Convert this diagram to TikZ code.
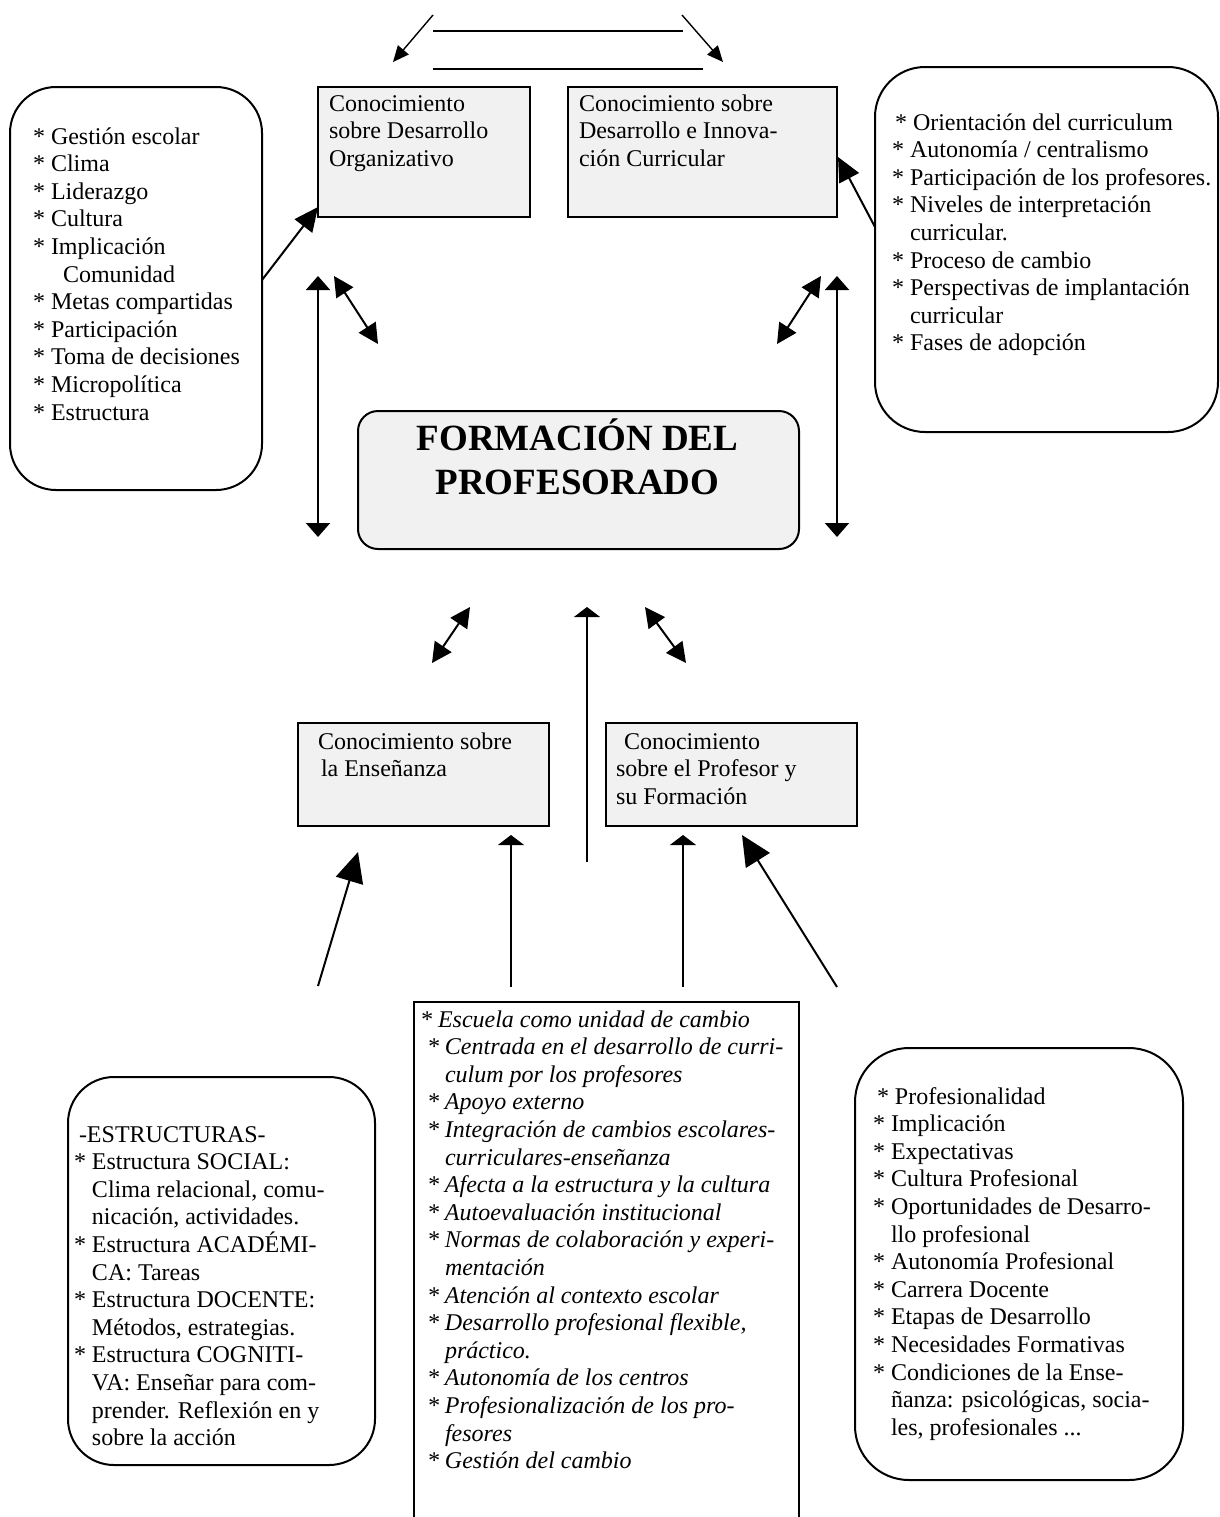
\documentclass[tikz,border=0pt]{standalone}
\usepackage{fontspec}
\setmainfont{Liberation Serif}
\usetikzlibrary{arrows.meta}
\definecolor{boxgray}{RGB}{241,241,241}
\begin{document}
\begin{tikzpicture}[x=0.5pt,y=-0.5pt,
  gbox/.style={draw, line width=1.4pt, fill=boxgray, anchor=north west, inner sep=0pt, outer sep=0pt},
  rbox/.style={draw, line width=1pt, rounded corners=23pt, anchor=north west, inner sep=0pt, outer sep=0pt},
  txt/.style={anchor=base west, inner sep=0pt, outer sep=0pt, font=\fontsize{12}{13.8}\selectfont},
  itxt/.style={txt, font=\fontsize{12}{13.8}\selectfont\itshape},
  ttip/.tip={Triangle[length=8pt,width=7pt]},
  vtip/.tip={Triangle[length=7pt,width=12pt]},
  dtip/.tip={Triangle[length=10pt,width=10pt]},
  btip/.tip={Triangle[length=12pt,width=11pt]},
  ftip/.tip={Triangle[length=5pt,width=13pt]},
  gtip/.tip={Triangle[length=15pt,width=14pt]},
  thinline/.style={line width=0.7pt},
  midline/.style={line width=1pt},
  hairline/.style={line width=0.6pt}
]
\useasboundingbox (0,0) rectangle (1220,1517);

% ---------- top connectors ----------
\coordinate (ta1) at (433,15);  \coordinate (ta2) at (393,62);
\coordinate (tb1) at (682,15);  \coordinate (tb2) at (723,62);
\coordinate (l1a) at (433,31);  \coordinate (l1b) at (683,31);
\coordinate (l2a) at (433,69);  \coordinate (l2b) at (703,69);
\draw[thinline,-ttip] (ta1) -- (ta2);
\draw[thinline,-ttip] (tb1) -- (tb2);
\draw[thinline] (l1a) -- (l1b);
\draw[thinline] (l2a) -- (l2b);

% ---------- top boxes ----------
\node[gbox, minimum width=106pt, minimum height=65pt] (b1) at (318,87) {};
\node[gbox, minimum width=134.5pt, minimum height=65pt] (b2) at (568,87) {};
\node[txt] (b1t) at (329,111) {\parbox[t]{120pt}{\raggedright Conocimiento\\sobre Desarrollo\\Organizativo}};
\node[txt] (b2t) at (579,111) {\parbox[t]{130pt}{\raggedright Conocimiento sobre\\Desarrollo e Innova-\\ción Curricular}};

% ---------- left top rounded box ----------
\node[rbox, minimum width=126pt, minimum height=201.5pt] (lbox) at (10,87) {};
\node[txt] (lboxt) at (33,144) {\parbox[t]{125pt}{\raggedright
{}* Gestión escolar\\
{}* Clima\\
{}* Liderazgo\\
{}* Cultura\\
{}* Implicación\\
\hspace*{15pt}Comunidad\\
{}* Metas compartidas\\
{}* Participación\\
{}* Toma de decisiones\\
{}* Micropolítica\\
{}* Estructura}};

% ---------- right top rounded box ----------
\node[rbox, rounded corners=25pt, minimum width=171.5pt, minimum height=182.5pt] (rbox) at (875,67) {};
\node[txt] (rboxt) at (892,130) {\parbox[t]{170pt}{\raggedright
\hspace*{1.5pt}* Orientación del curriculum\\
{}* Autonomía / centralismo\\
{}* Participación de los profesores.\\
{}* Niveles de interpretación\\
\phantom{* }curricular.\\
{}* Proceso de cambio\\
{}* Perspectivas de implantación\\
\phantom{* }curricular\\
{}* Fases de adopción}};

% connectors from side boxes to knowledge boxes
\coordinate (la) at (262,280);
\coordinate (lb) at (318,207);
\draw[midline,-btip] (la) -- (lb);
\coordinate (ra) at (875,227);
\coordinate (rb) at (838,157);
\draw[midline,-btip] (ra) -- (rb);

% ---------- main box ----------
\node[draw, line width=1pt, fill=boxgray, rounded corners=10pt, anchor=north west,
      minimum width=220.5pt, minimum height=69pt, inner sep=0pt] (main) at (357,410) {};
\node[anchor=base, inner sep=0pt] (maint) at (577.5,450)
  {\parbox[t]{215pt}{\centering\fontsize{18.5}{22}\selectfont\bfseries FORMACIÓN DEL\\PROFESORADO}};

% vertical long double arrows
\coordinate (vl1) at (318,276); \coordinate (vl2) at (318,537);
\coordinate (vr1) at (837,276); \coordinate (vr2) at (837,537);
\draw[midline,vtip-vtip] (vl1) -- (vl2);
\draw[midline,vtip-vtip] (vr1) -- (vr2);

% small diagonal double arrows (top)
\coordinate (sl1) at (334,276); \coordinate (sl2) at (378,344);
\coordinate (sr1) at (821,276); \coordinate (sr2) at (777,344);
\draw[midline,dtip-dtip] (sl1) -- (sl2);
\draw[midline,dtip-dtip] (sr1) -- (sr2);

% small diagonal double arrows (bottom) and centre arrow
\coordinate (bl1) at (470,607); \coordinate (bl2) at (432,663);
\coordinate (br1) at (645,607); \coordinate (br2) at (686,663);
\draw[midline,dtip-dtip] (bl1) -- (bl2);
\draw[midline,dtip-dtip] (br1) -- (br2);
\coordinate (c1) at (587,862); \coordinate (c2) at (587,607);
\draw[hairline,-ftip] (c1) -- (c2);

% ---------- lower knowledge boxes ----------
\node[gbox, minimum width=125.5pt, minimum height=51.5pt] (b3) at (298,723) {};
\node[gbox, minimum width=125.5pt, minimum height=51.5pt] (b4) at (606,723) {};
\node[txt] (b3t) at (318,749) {\parbox[t]{120pt}{\raggedright Conocimiento sobre\\\hspace*{1.5pt}la Enseñanza}};
\node[txt] (b4t) at (616,749) {\parbox[t]{120pt}{\raggedright \hspace*{4pt}Conocimiento\\sobre el Profesor y\\su Formación}};

% arrows from the bottom row
\coordinate (u1a) at (318,986); \coordinate (u1b) at (358,852);
\coordinate (u2a) at (511,987); \coordinate (u2b) at (511,835);
\coordinate (u3a) at (683,987); \coordinate (u3b) at (683,835);
\coordinate (u4a) at (837,987); \coordinate (u4b) at (742,835);
\draw[midline,-gtip] (u1a) -- (u1b);
\draw[hairline,-ftip] (u2a) -- (u2b);
\draw[hairline,-ftip] (u3a) -- (u3b);
\draw[midline,-gtip] (u4a) -- (u4b);

% ---------- middle bottom box (runs off the page) ----------
\coordinate (m1) at (414,1517); \coordinate (m2) at (414,1002);
\coordinate (m3) at (799,1002); \coordinate (m4) at (799,1517);
\draw[line width=1.2pt] (m1) -- (m2) -- (m3) -- (m4);
\node[itxt] (midt) at (420,1027) {\parbox[t]{190pt}{\raggedright
{}* Escuela como unidad de cambio\\
\hspace*{3.5pt}* Centrada en el desarrollo de curri-\\
\hspace*{3.5pt}\phantom{* }culum por los profesores\\
\hspace*{3.5pt}* Apoyo externo\\
\hspace*{3.5pt}* Integración de cambios escolares-\\
\hspace*{3.5pt}\phantom{* }curriculares-enseñanza\\
\hspace*{3.5pt}* Afecta a la estructura y la cultura\\
\hspace*{3.5pt}* Autoevaluación institucional\\
\hspace*{3.5pt}* Normas de colaboración y experi-\\
\hspace*{3.5pt}\phantom{* }mentación\\
\hspace*{3.5pt}* Atención al contexto escolar\\
\hspace*{3.5pt}* Desarrollo profesional flexible,\\
\hspace*{3.5pt}\phantom{* }práctico.\\
\hspace*{3.5pt}* Autonomía de los centros\\
\hspace*{3.5pt}* Profesionalización de los pro-\\
\hspace*{3.5pt}\phantom{* }fesores\\
\hspace*{3.5pt}* Gestión del cambio}};

% ---------- bottom left rounded box ----------
\node[rbox, minimum width=153.5pt, minimum height=194pt] (blbox) at (68,1077) {};
\node[txt] (blboxt) at (74,1142) {\parbox[t]{150pt}{\raggedright
\hspace*{2.5pt}-ESTRUCTURAS-\\
{}* Estructura SOCIAL:\\
\phantom{* }Clima relacional, comu-\\
\phantom{* }nicación, actividades.\\
{}* Estructura ACADÉMI-\\
\phantom{* }CA: Tareas\\
{}* Estructura DOCENTE:\\
\phantom{* }Métodos, estrategias.\\
{}* Estructura COGNITI-\\
\phantom{* }VA: Enseñar para com-\\
\phantom{* }prender. Reflexión en y\\
\phantom{* }sobre la acción}};

% ---------- bottom right rounded box ----------
\node[rbox, rounded corners=27pt, minimum width=164pt, minimum height=216pt] (brbox) at (855,1048) {};
\node[txt] (brboxt) at (873,1104) {\parbox[t]{160pt}{\raggedright
\hspace*{2pt}* Profesionalidad\\
{}* Implicación\\
{}* Expectativas\\
{}* Cultura Profesional\\
{}* Oportunidades de Desarro-\\
\phantom{* }llo profesional\\
{}* Autonomía Profesional\\
{}* Carrera Docente\\
{}* Etapas de Desarrollo\\
{}* Necesidades Formativas\\
{}* Condiciones de la Ense-\\
\phantom{* }ñanza: psicológicas, socia-\\
\phantom{* }les, profesionales ...}};
\end{tikzpicture}
\end{document}
